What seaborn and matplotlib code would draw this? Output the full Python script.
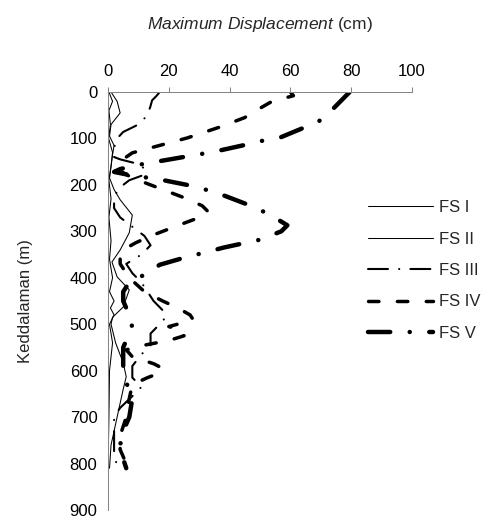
import seaborn as sns
import matplotlib.pyplot as plt

# depth (m) and displacement (cm)
depth_fs1 = [0, 20, 40, 70, 100, 130, 160, 190, 230, 270, 320, 360, 400, 430, 450,
             465, 480, 500, 540, 600, 700, 810]
disp_fs1 = [0.3, 1.5, 0.3, 0.8, 0.2, 1.5, 1.0, 0.3, 1.0, 0.3, 1.0, 0.5, 1.5, 0.5, 2.0,
            0.8, 2.0, 0.5, 1.5, 0.5, 0.3, 0.0]

depth_fs2 = [0, 20, 45, 70, 95, 115, 135, 160, 185, 210, 232, 265, 303, 340, 366, 398,
             426, 463, 485, 500, 540, 583, 613, 640, 700, 760, 810]
disp_fs2 = [1.0, 3.0, 4.0, 1.0, 0.5, 2.0, 1.5, 1.0, 0.5, 2.0, 4.0, 8.0, 7.0, 4.0, 1.3, 3.0,
            7.0, 5.0, 1.5, 1.0, 2.5, 5.0, 6.0, 5.0, 3.0, 1.0, 0.5]

depth_fs3 = [0, 8, 18, 30, 50, 70, 86, 100, 120, 140, 145, 155, 165, 178, 190, 205, 225,
             250, 270, 290, 310, 330, 350, 370, 390, 410, 430, 450, 470, 485, 500, 520,
             545, 565, 590, 615, 635, 655, 680, 700, 740, 780, 805]
disp_fs3 = [17, 16, 14.5, 14, 13, 10, 5, 3, 2, 2, 4, 10, 12, 12, 7, 4, 2,
            2, 4, 8, 12, 14, 11, 6, 8, 11, 13, 15, 18, 19, 17, 14,
            14, 11, 8, 8, 11, 8, 4, 2, 2, 2, 3]

depth_fs4 = [0, 8, 20, 35, 55, 75, 99, 115, 131, 140, 155, 170, 185, 200, 215, 230, 245,
             258, 268, 280, 295, 310, 325, 340, 355, 370, 400, 430, 450, 465, 480, 490,
             498, 505, 515, 525, 535, 545, 555, 570, 585, 595, 605, 615, 630, 660, 700,
             740, 770, 800, 810]
disp_fs4 = [60, 61, 54, 50, 45, 37, 26, 17, 8, 6, 3, 4, 8, 14, 20, 26, 31,
            33, 31, 26, 20, 14, 9, 5, 4, 4, 7, 12, 18, 23, 27, 28,
            24, 20, 25, 25, 20, 12, 6, 8, 15, 18, 17, 13, 8, 7, 6,
            4, 4, 6, 5]

depth_fs5 = [0, 43, 65, 78, 97, 106, 114, 127, 133, 150, 158, 166, 172, 180, 187, 200,
             215, 240, 260, 275, 287, 300, 318, 335, 347, 355, 372, 390, 410, 430, 450,
             480, 500, 520, 550, 590, 625, 660, 700, 730, 760, 790, 810]
disp_fs5 = [79.5, 73, 69, 64, 57, 50, 45, 36, 31, 16, 9, 4, 2, 8, 16, 26,
            35, 45, 52, 56, 59, 57, 50, 38, 31, 26, 17, 13, 7, 5, 5,
            7, 8, 7, 5, 5, 6, 8, 7, 5, 4, 5, 6]

labels = ['FS I', 'FS II', 'FS III', 'FS IV', 'FS V']

sns.set_style('white')
plt.rcParams['font.family'] = ['Liberation Sans', 'DejaVu Sans']
plt.rcParams['mathtext.fontset'] = 'custom'
plt.rcParams['mathtext.it'] = 'Liberation Sans:italic'
plt.rcParams['mathtext.rm'] = 'Liberation Sans'
plt.rcParams['lines.scale_dashes'] = False

fig = plt.figure(figsize=(4.88, 5.21), dpi=100)
ax = fig.add_axes([0.2213, 0.0211, 0.623, 0.8023])

series = [
    (disp_fs1, depth_fs1, 0.75, '-'),
    (disp_fs2, depth_fs2, 0.75, '-'),
    (disp_fs3, depth_fs3, 1.5, (0, (14.4, 8, 0.1, 8))),
    (disp_fs4, depth_fs4, 2.5, (0, (7.5, 13.3))),
    (disp_fs5, depth_fs5, 3.2, (0, (16, 14, 0.1, 14))),
]
for (x, y, lw, ls), name in zip(series, labels):
    sns.lineplot(x=x, y=y, ax=ax, color='black', lw=lw, linestyle=ls, sort=False,
                 estimator=None, label=name, dash_capstyle='round', solid_capstyle='round')

ax.set_xlim(0, 100)
ax.set_ylim(900, 0)
ax.set_xticks(range(0, 101, 20))
ax.set_yticks(range(0, 901, 100))
ax.xaxis.tick_top()
ax.xaxis.set_label_position('top')
for side in ['bottom', 'right']:
    ax.spines[side].set_visible(False)
for side in ['top', 'left']:
    ax.spines[side].set_color('#868686')
    ax.spines[side].set_linewidth(0.75)
ax.tick_params(axis='both', direction='out', length=3.6, width=0.75, color='#868686',
               labelsize=12, labelcolor='black')
ax.tick_params(axis='x', pad=6)
ax.tick_params(axis='y', pad=4)

ax.set_xlabel(r'$\it{Maximum\ Displacement}$ (cm)', fontsize=12.5, labelpad=25)
ax.set_ylabel('Keddalaman (m)', fontsize=12, labelpad=26)

ax.legend(loc='upper left', bbox_to_anchor=(368 / 488, 1 - 200 / 521),
          bbox_transform=fig.transFigure, frameon=False, fontsize=12,
          handlelength=3.9, handletextpad=0.36, labelspacing=0.99,
          borderpad=0, borderaxespad=0)

plt.savefig('out.png', dpi=100)
